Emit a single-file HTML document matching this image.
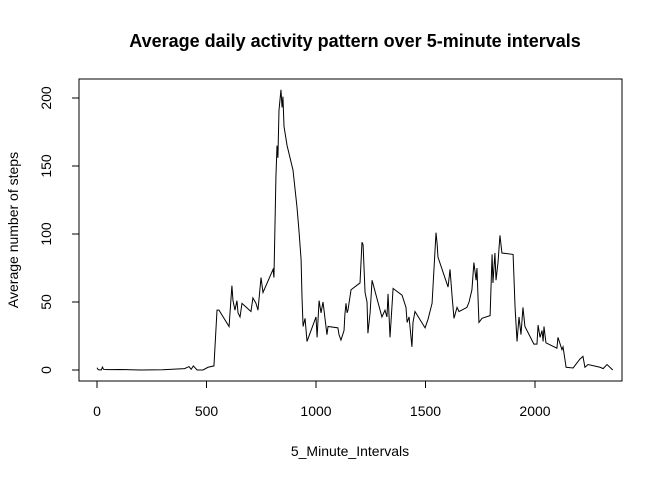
<!DOCTYPE html>
<html><head><meta charset="utf-8"><style>
body{margin:0;background:#fff}
text{font-family:"Liberation Sans",Arial,sans-serif;fill:#000}
</style></head><body>
<svg id="chart" width="672" height="480" xmlns="http://www.w3.org/2000/svg">
<text x="355" y="47" font-size="18" font-weight="bold" text-anchor="middle">Average daily activity pattern over 5-minute intervals</text>
<text x="350" y="456" font-size="14" text-anchor="middle">5_Minute_Intervals</text>
<text transform="translate(18,230) rotate(-90)" font-size="14" text-anchor="middle">Average number of steps</text>
<rect x="79" y="79" width="543" height="302" fill="none" stroke="#000" stroke-width="1"/>
<g id="axes"></g>
<polyline id="series" fill="none" stroke="#000" stroke-width="1"/>
</svg>
<script>
const xTicks=[0,500,1000,1500,2000];
const yTicks=[0,50,100,150,200];
const intervals=[0,5,10,20,25,30,50,100,150,200,300,400,420,425,430,440,457,484,507,534,548,557,603,616,621,630,639,644,653,662,703,712,726,735,749,758,804,808,817,822,826,831,840,845,849,854,868,895,913,922,932,936,941,950,959,1000,1005,1014,1023,1032,1041,1050,1055,1100,1105,1114,1128,1132,1137,1142,1146,1160,1201,1210,1215,1224,1233,1237,1247,1256,1301,1315,1324,1329,1338,1352,1393,1411,1416,1425,1438,1443,1452,1498,1511,1530,1548,1553,1557,1603,1612,1621,1630,1644,1653,1689,1699,1712,1721,1731,1735,1744,1758,1795,1804,1808,1817,1822,1831,1840,1849,1900,1909,1918,1927,1936,1945,1954,1995,2009,2014,2023,2032,2037,2041,2050,2100,2105,2123,2128,2142,2174,2205,2219,2228,2242,2297,2311,2329,2355];
const steps=[1.7,0.3,0.1,0.1,2.1,0.5,0.3,0.4,0.2,0,0.2,1,2.5,1.5,0.5,3,0,0,2,3,44,44,32,62,51,44,51,42,39,49,43,53,49,44,68,57,74,68,142,165,156,191,206,193,201,179,165,147,120,103,81,54,32,38,21,39,24,51,42,50,38,26,32,31,26,22,29,41,49,42,44,59,64,94,92,57,50,27,42,66,39,44,39,56,24,60,55,46,35,39,17,35,43,31,37,49,101,93,83,61,74,55,38,46,43,46,50,59,79,66,75,35,38,40,85,64,86,66,79,99,86,85,46,21,39,26,46,32,19,19,33,24,29,21,32,20,16,24,15,17,2,1.5,8,10,2,4,2,1,4,0];
const sx=v=>97+v*0.219;
const sy=v=>370-v*1.36;
const NS='http://www.w3.org/2000/svg';
const ax=document.getElementById('axes');
function mk(t,a){const e=document.createElementNS(NS,t);for(const k in a)e.setAttribute(k,a[k]);ax.appendChild(e);return e;}
let l=mk('line',{x1:sx(0),x2:sx(2000),y1:381,y2:381,stroke:'#000'});


l=mk('line',{x1:79,x2:79,y1:sy(0),y2:sy(200),stroke:'#000'});


xTicks.forEach(v=>{
 const t=mk('line',{x1:sx(v),x2:sx(v),y1:381,y2:388,stroke:'#000'});
 
 
 const s=mk('text',{x:sx(v),y:416,'font-size':14,'text-anchor':'middle'});s.textContent=v;
 
 
});
yTicks.forEach(v=>{
 const t=mk('line',{x1:72,x2:79,y1:sy(v),y2:sy(v),stroke:'#000'});
 
 
 const s=mk('text',{transform:`translate(51,${sy(v)}) rotate(-90)`,'font-size':14,'text-anchor':'middle'});s.textContent=v;
 
 
});
document.getElementById('series').setAttribute('points',intervals.map((x,i)=>sx(x)+','+sy(steps[i])).join(' '));
</script>
</body></html>
